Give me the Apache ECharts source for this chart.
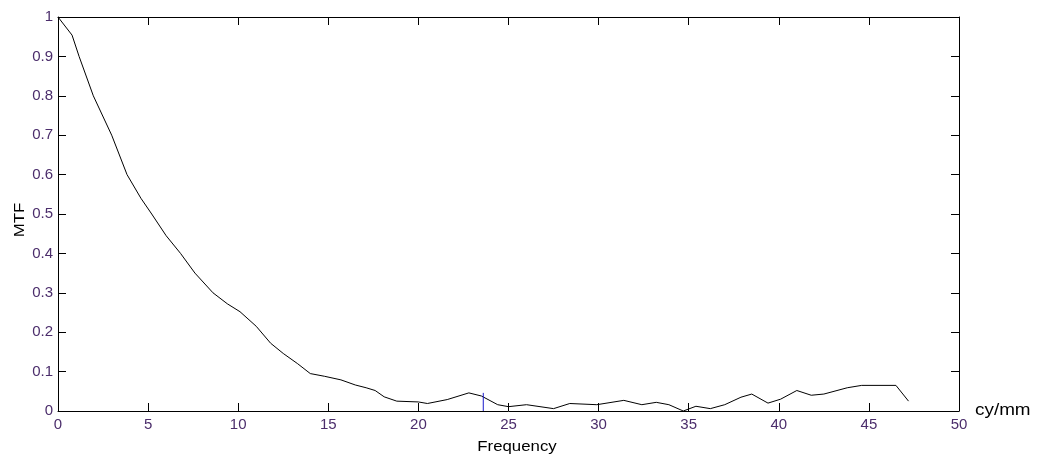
<!DOCTYPE html>
<html>
<head>
<meta charset="utf-8">
<script src="https://cdn.jsdelivr.net/npm/echarts@6/dist/echarts.min.js"></script>
<style>html,body{margin:0;padding:0;background:#fff;}#c{width:1038px;height:459px;}</style>
</head>
<body>
<div id="c"></div>
<script>
const freq = [0,0.78,1.17,1.96,2.98,3.83,4.6,5.2,6.0,6.8,7.6,8.6,9.4,10.1,11.0,11.8,12.5,13.3,14.0,14.8,15.7,16.5,17.1,17.6,18.1,18.8,20.0,20.5,21.6,22.8,23.5,24.4,25.0,26.0,27.5,28.4,29.9,31.4,32.4,33.2,33.9,34.7,35.4,36.2,37.0,37.9,38.5,39.4,40.1,41.0,41.8,42.5,43.8,44.6,46.5,47.2];
const mtf = [1.0,0.954,0.9,0.8,0.7,0.6,0.54,0.5,0.445,0.40,0.35,0.30,0.272,0.252,0.215,0.172,0.146,0.12,0.095,0.088,0.079,0.066,0.059,0.052,0.036,0.025,0.023,0.019,0.029,0.046,0.038,0.016,0.011,0.016,0.006,0.019,0.016,0.027,0.016,0.022,0.016,0.0,0.012,0.006,0.016,0.035,0.043,0.02,0.03,0.052,0.04,0.043,0.059,0.065,0.065,0.025];
const markerX = [23.6, 23.6];
const markerY = [0, 0.046];
const xTitle = 'Frequency';
const yTitle = 'MTF';
const unitLabel = 'cy/mm';

const labelColor = '#4b2d6b';
const font = 'Liberation Sans, Arial, sans-serif';
const chart = echarts.init(document.getElementById('c'));
const tickStyle = {show:true, inside:true, length:8, lineStyle:{color:'#000', width:1}};
const lineStyle = {show:true, onZero:false, lineStyle:{color:'#000', width:1}};
chart.setOption({
  animation:false,
  backgroundColor:'#fff',
  grid:{left:58, top:17, width:901, height:394},
  xAxis:[{
    type:'value', min:0, max:50, interval:5,
    axisLine:lineStyle,
    axisTick:tickStyle,
    axisLabel:{color:labelColor, fontSize:15, fontFamily:font, margin:6},
    splitLine:{show:false}
  },{
    type:'value', min:0, max:50, interval:5, position:'top',
    axisLine:lineStyle,
    axisTick:tickStyle, axisLabel:{show:false}, splitLine:{show:false}
  }],
  yAxis:[{
    type:'value', min:0, max:1, interval:0.1,
    axisLine:lineStyle,
    axisTick:tickStyle,
    axisLabel:{color:labelColor, fontSize:15, fontFamily:font, margin:5},
    splitLine:{show:false}
  },{
    type:'value', min:0, max:1, interval:0.1, position:'right',
    axisLine:lineStyle,
    axisTick:tickStyle, axisLabel:{show:false}, splitLine:{show:false}
  }],
  graphic:[{
    type:'text', x:517, y:447, scaleX:1.12,
    style:{text:xTitle, fill:'#000', font:'15px ' + font, textAlign:'center', textVerticalAlign:'middle'}
  },{
    type:'text', x:20, y:220, rotation:Math.PI/2, scaleX:1.2,
    style:{text:yTitle, fill:'#000', font:'14px ' + font, textAlign:'center', textVerticalAlign:'middle'}
  },{
    type:'text', x:975, y:411, scaleX:1.18,
    style:{text:unitLabel, fill:'#000', font:'16px ' + font, textAlign:'left', textVerticalAlign:'middle'}
  }],
  series:[{
    type:'line', showSymbol:false, symbol:'none',
    data:freq.map((f,i)=>[f, mtf[i]]),
    lineStyle:{color:'#000', width:1}
  },{
    type:'line', showSymbol:false, symbol:'none',
    data:markerX.map((f,i)=>[f, markerY[i]]),
    lineStyle:{color:'#1a1acc', width:1}
  }]
});
</script>
</body>
</html>
